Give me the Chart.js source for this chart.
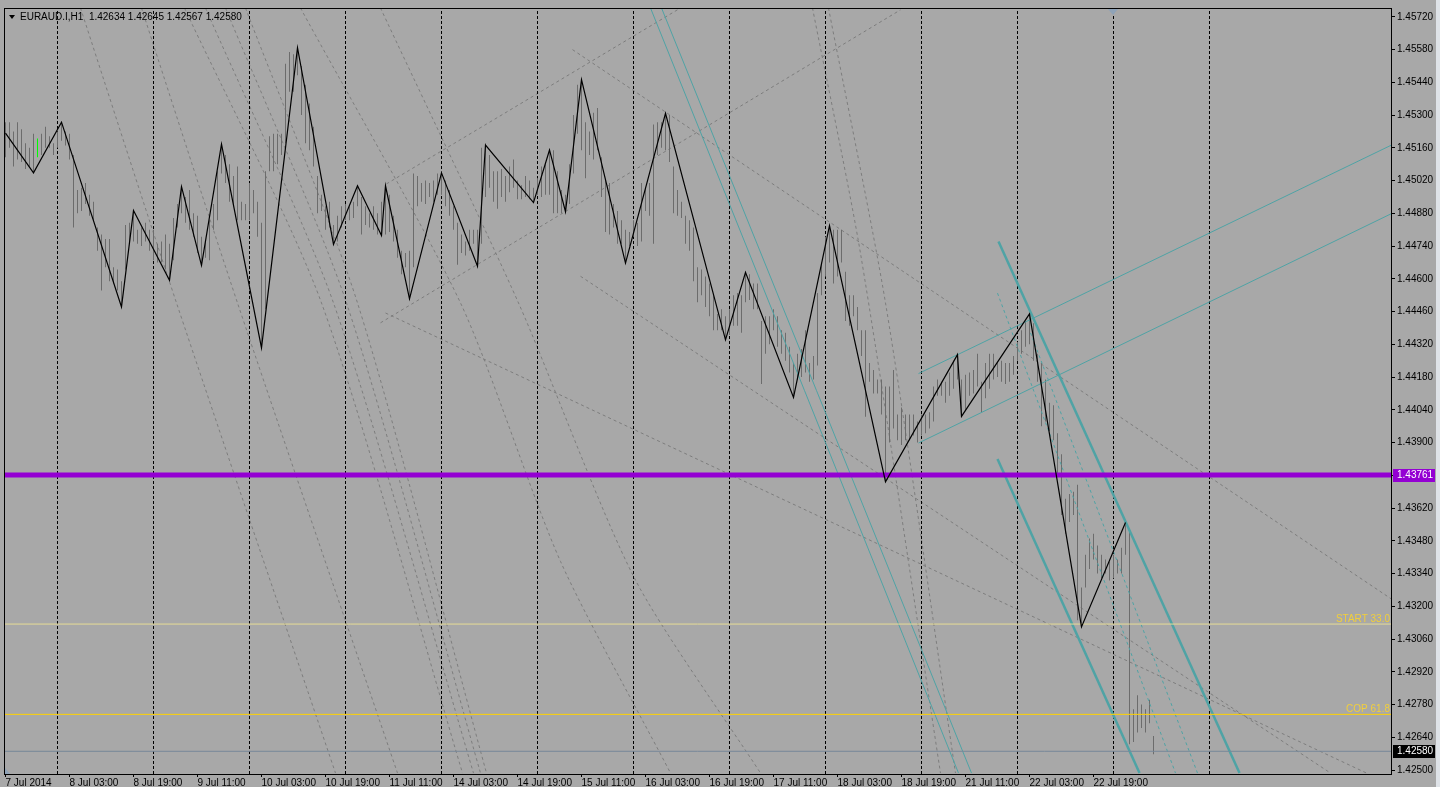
<!DOCTYPE html>
<html>
<head>
<meta charset="utf-8">
<script src="https://cdn.jsdelivr.net/npm/chart.js@4.4.1/dist/chart.umd.min.js"></script>
<style>
html,body{margin:0;padding:0;background:#A8A8A8;overflow:hidden;}
#wrap{position:relative;width:1440px;height:787px;}
</style>
</head>
<body>
<div id="wrap"><canvas id="c"></canvas></div>
<script>
// ---------- DATA ----------
const symbolTitle = "EURAUD.I,H1  1.42634 1.42645 1.42567 1.42580";
const xTickIdx = [0,16,32,48,64,80,96,112,128,144,160,176,192,208,224,240,256,272];
const xTickLabels = ["7 Jul 2014","8 Jul 03:00","8 Jul 19:00","9 Jul 11:00","10 Jul 03:00","10 Jul 19:00","11 Jul 11:00","14 Jul 03:00","14 Jul 19:00","15 Jul 11:00","16 Jul 03:00","16 Jul 19:00","17 Jul 11:00","18 Jul 03:00","18 Jul 19:00","21 Jul 11:00","22 Jul 03:00","22 Jul 19:00"];
const yTicks = [1.42500,1.42640,1.42780,1.42920,1.43060,1.43200,1.43340,1.43480,1.43620,1.43760,1.43900,1.44040,1.44180,1.44320,1.44460,1.44600,1.44740,1.44880,1.45020,1.45160,1.45300,1.45440,1.45580,1.45720];
const daySeparators = [13,37,61,85,109,133,157,181,205,229,253,277,301];

const highs = [
1.4527,1.4527,1.4523,1.4527,1.4524,1.4518,1.4516,1.4522,1.4520,1.4522,
1.4525,1.4521,1.4518,1.4523,1.4527,1.4523,1.4522,1.4513,1.4498,1.4499,
1.4501,1.4496,1.4493,1.4482,1.4479,1.4477,1.4477,1.4465,1.4464,1.4459,
1.4483,1.4484,1.4489,1.4481,1.4482,1.4484,1.4481,1.4481,1.4475,1.4476,
1.4479,1.4475,1.4486,1.4492,1.4499,1.4495,1.4498,1.4488,1.4487,1.4478,
1.4476,1.4485,1.4492,1.4506,1.4518,1.4513,1.4509,1.4504,1.4508,1.4493,
1.4492,1.4501,1.4498,1.4493,1.4484,1.4506,1.4521,1.4522,1.4522,1.4522,
1.4552,1.4557,1.4556,1.4559,1.4551,1.4543,1.4535,1.4525,1.4504,1.4496,
1.4491,1.4493,1.4483,1.4487,1.4491,1.4492,1.4491,1.4493,1.4500,1.4495,
1.4491,1.4488,1.4491,1.4488,1.4493,1.4500,1.4496,1.4487,1.4481,1.4472,
1.4471,1.4472,1.4505,1.4504,1.4501,1.4502,1.4501,1.4502,1.4505,1.4506,
1.4502,1.4498,1.4491,1.4484,1.4479,1.4476,1.4481,1.4481,1.4481,1.4516,
1.4518,1.4513,1.4506,1.4506,1.4507,1.4504,1.4508,1.4511,1.4502,1.4500,
1.4504,1.4502,1.4499,1.4503,1.4508,1.4509,1.4515,1.4515,1.4506,1.4498,
1.4496,1.4509,1.4530,1.4543,1.4545,1.4527,1.4523,1.4531,1.4533,1.4512,
1.4502,1.4501,1.4492,1.4489,1.4485,1.4481,1.4480,1.4485,1.4484,1.4501,
1.4499,1.4501,1.4526,1.4527,1.4527,1.4531,1.4530,1.4508,1.4498,1.4493,
1.4487,1.4485,1.4482,1.4465,1.4464,1.4461,1.4458,1.4453,1.4445,1.4447,
1.4444,1.4447,1.4453,1.4454,1.4453,1.4463,1.4462,1.4458,1.4458,1.4442,
1.4444,1.4444,1.4447,1.4444,1.4438,1.4437,1.4431,1.4424,1.4428,1.4430,
1.4438,1.4424,1.4427,1.4454,1.4467,1.4478,1.4483,1.4481,1.4481,1.4481,
1.4463,1.4453,1.4453,1.4448,1.4438,1.4438,1.4424,1.4421,1.4417,1.4417,
1.4414,1.4414,1.4421,1.4402,1.4405,1.4402,1.4402,1.4402,1.4399,1.4402,
1.4402,1.4403,1.4414,1.4417,1.4416,1.4416,1.4420,1.4425,1.4428,1.4417,
1.4419,1.4420,1.4421,1.4428,1.4416,1.4424,1.4428,1.4428,1.4424,1.4425,
1.4424,1.4424,1.4427,1.4433,1.4438,1.4442,1.4445,1.4441,1.4428,1.4424,
1.4417,1.4407,1.4406,1.4394,1.4385,1.4366,1.4368,1.4369,1.4372,1.4328,
1.4342,1.4349,1.4351,1.4346,1.4342,1.4340,1.4339,1.4342,1.4340,1.4345,
1.4356,1.4353,1.4276,1.4282,1.4278,1.4276,1.4280,1.42645
];
const lows = [
1.4512,1.4516,1.4508,1.4511,1.4510,1.4507,1.4508,1.4505,1.4512,1.4513,
1.4516,1.4516,1.4513,1.4516,1.4519,1.4517,1.4511,1.4482,1.4488,1.4489,
1.4492,1.4487,1.4485,1.4472,1.4455,1.4465,1.4459,1.4458,1.4455,1.4448,
1.4464,1.4475,1.4476,1.4475,1.4474,1.4476,1.4472,1.4468,1.4467,1.4467,
1.4464,1.4459,1.4468,1.4482,1.4488,1.4484,1.4481,1.4478,1.4471,1.4466,
1.4469,1.4468,1.4481,1.4485,1.4505,1.4501,1.4493,1.4491,1.4485,1.4485,
1.4485,1.4485,1.4488,1.4478,1.4431,1.4447,1.4506,1.4506,1.4509,1.4513,
1.4518,1.4540,1.4540,1.4547,1.4530,1.4518,1.4515,1.4508,1.4488,1.4489,
1.4481,1.4482,1.4475,1.4476,1.4482,1.4485,1.4485,1.4486,1.4491,1.4479,
1.4483,1.4482,1.4481,1.4479,1.4479,1.4479,1.4480,1.4476,1.4469,1.4462,
1.4465,1.4451,1.4465,1.4491,1.4493,1.4492,1.4495,1.4493,1.4496,1.4496,
1.4491,1.4487,1.4481,1.4466,1.4471,1.4470,1.4472,1.4475,1.4465,1.4475,
1.4495,1.4499,1.4493,1.4490,1.4495,1.4493,1.4497,1.4499,1.4494,1.4494,
1.4495,1.4494,1.4493,1.4496,1.4495,1.4496,1.4496,1.4488,1.4488,1.4488,
1.4488,1.4492,1.4505,1.4522,1.4515,1.4503,1.4513,1.4511,1.4515,1.4495,
1.4480,1.4479,1.4482,1.4475,1.4475,1.4467,1.4474,1.4478,1.4474,1.4476,
1.4489,1.4487,1.4475,1.4513,1.4516,1.4515,1.4510,1.4488,1.4487,1.4486,
1.4475,1.4472,1.4459,1.4450,1.4453,1.4448,1.4444,1.4438,1.4438,1.4438,
1.4434,1.4436,1.4440,1.4440,1.4437,1.4450,1.4451,1.4447,1.4447,1.4415,
1.4428,1.4432,1.4438,1.4431,1.4428,1.4425,1.4420,1.4409,1.4417,1.4418,
1.4420,1.4416,1.4417,1.4423,1.4453,1.4461,1.4467,1.4458,1.4461,1.4467,
1.4442,1.4440,1.4444,1.4438,1.4427,1.4401,1.4416,1.4411,1.4411,1.4402,
1.4373,1.4390,1.4396,1.4391,1.4389,1.4391,1.4391,1.4393,1.4390,1.4393,
1.4394,1.4396,1.4399,1.4410,1.4410,1.4407,1.4410,1.4413,1.4417,1.4401,
1.4404,1.4410,1.4411,1.4414,1.4403,1.4409,1.4413,1.4417,1.4418,1.4416,
1.4415,1.4416,1.4419,1.4425,1.4428,1.4431,1.4432,1.4425,1.4416,1.4397,
1.4399,1.4395,1.4391,1.4377,1.4359,1.4351,1.4356,1.4359,1.4314,1.4311,
1.4328,1.4336,1.4340,1.4334,1.4332,1.4334,1.4331,1.4332,1.4334,1.4334,
1.4342,1.4261,1.4262,1.4266,1.4268,1.4266,1.4270,1.42567
];
const highlightBar = 8;

const zzIdx = [0,7,14,29,32,41,44,49,54,64,73,82,88,94,95,101,109,118,120,132,136,140,144,155,165,180,185,197,206,220,238,239,256,269,280];
const zzPrice = [1.45223,1.45053,1.45270,1.44480,1.44892,1.44594,1.44994,1.44658,1.45176,1.44305,1.45588,1.44747,1.44998,1.44785,1.44998,1.44514,1.45053,1.44654,1.45172,1.44926,1.45151,1.44887,1.45452,1.44667,1.45308,1.44339,1.44628,1.44093,1.44828,1.43732,1.44276,1.44012,1.44450,1.43112,1.43558];

// horizontal levels
const levelPivot = 1.43761;
const levelStart = 1.43124;
const levelCop = 1.42738;
const bidPrice = 1.42580;

// drawn objects: [barIndex, price] points
const grayArcs = [
  [[18.75,1.45758],[42.75,1.44497],[82.5,1.42487]],
  [[34,1.45758],[58,1.44497],[98,1.42487]],
  [[44.75,1.45758],[79,1.44497],[114.25,1.42487]],
  [[50,1.45758],[82,1.44497],[117,1.42487]],
  [[55,1.45758],[85.25,1.44497],[118.75,1.42487]],
  [[60,1.45758],[88,1.44497],[120.25,1.42487]],
  [[73.75,1.45758],[113.75,1.44497],[138.75,1.43392],[166.25,1.42487]],
  [[93.75,1.45758],[128.25,1.44497],[157.25,1.43320],[188.75,1.42487]],
  [[201.75,1.45758],[213.75,1.44709],[233.75,1.42487]],
  [[205.75,1.45758],[220,1.44497],[237.5,1.42487]]
];
const grayLines = [
  [[95.25,1.45006],[168.75,1.45758]],
  [[93.75,1.44412],[223.75,1.45750]],
  [[141.75,1.45580],[346.5,1.43231]],
  [[143.75,1.44611],[331.25,1.42487]],
  [[95,1.44454],[340.25,1.42487]]
];
const tealThin = [
  [[161.25,1.45758],[238.25,1.42487]],
  [[164,1.45758],[241.5,1.42487]],
  [[228.25,1.44195],[346.5,1.45172]],
  [[228.25,1.43898],[346.5,1.44879]]
];
const tealThick = [
  [[248.25,1.44760],[308.5,1.42487]],
  [[248,1.43830],[283.5,1.42487]]
];
const tealDashed = [
  [[248,1.44539],[292.5,1.42487]],
  [[256.25,1.44369],[298,1.42487]]
];

// ---------- CHART ----------
const X_MIN = -0.375, X_MAX = 346.375, Y_MIN = 1.42483, Y_MAX = 1.45758;
const FONT = '"Liberation Sans", Arial, sans-serif';
Chart.defaults.font.family = FONT;
Chart.defaults.font.size = 10;
Chart.defaults.color = '#000';

const pts = arr => arr.map(p => ({x:p[0], y:p[1]}));
const lineDs = (arr, color, width, dash, order, tension) => ({
  type:'line', data: pts(arr), borderColor: color, borderWidth: width,
  borderDash: dash || [], pointRadius: 0, fill: false, tension: tension || 0, order
});

const datasets = [];
grayArcs.forEach(a => datasets.push(lineDs(a, '#7d7d7d', 1, [3,3], 20, 0.25)));
grayLines.forEach(a => datasets.push(lineDs(a, '#7d7d7d', 1, [3,3], 20)));
daySeparators.forEach(i => datasets.push(lineDs([[i,Y_MIN],[i,Y_MAX]], '#000', 1, [3,2], 18)));
datasets.push({
  type:'bar', order: 10,
  data: highs.map((h,i) => ({x:i, y:[lows[i], h]})),
  backgroundColor: highs.map((h,i) => i === highlightBar ? '#00ff00' : '#6c6c6c'),
  borderWidth: 0, barThickness: 1, inflateAmount: 0
});
tealThin.forEach(a => datasets.push(lineDs(a, '#4fa3a5', 1, [], 8)));
tealDashed.forEach(a => datasets.push(lineDs(a, '#4fa3a5', 1, [3,3], 8)));
tealThick.forEach(a => datasets.push(lineDs(a, '#4fa3a5', 2.5, [], 7)));
datasets.push(lineDs([[X_MIN,levelStart],[X_MAX,levelStart]], '#e6dc96', 1, [], 5));
datasets.push(lineDs([[X_MIN,levelCop],[X_MAX,levelCop]], '#ffd200', 1, [], 5));
datasets.push(lineDs([[X_MIN,bidPrice],[X_MAX,bidPrice]], '#778899', 1, [], 5));
datasets.push(lineDs([[X_MIN,levelPivot],[X_MAX,levelPivot]], '#9400d3', 5, [], 4));
datasets.push(lineDs(zzIdx.map((x,k) => [x, zzPrice[k]]), '#000', 1.2, [], 1));

const overlay = {
  id: 'overlay',
  beforeDraw(chart) {
    const ctx = chart.ctx;
    ctx.save();
    ctx.fillStyle = '#A8A8A8';
    ctx.fillRect(0, 0, chart.width, chart.height);
    ctx.fillStyle = '#dfe3e8';
    ctx.fillRect(1436, 0, 4, chart.height);
    ctx.restore();
  },
  afterDatasetsDraw(chart) {
    const ctx = chart.ctx, a = chart.chartArea, y = chart.scales.y;
    ctx.save();
    ctx.font = '10px ' + FONT;
    ctx.fillStyle = '#f2cf3a';
    ctx.textAlign = 'right';
    ctx.textBaseline = 'alphabetic';
    ctx.fillText('START 33.0', a.right - 1, y.getPixelForValue(levelStart) - 2);
    ctx.fillText('COP 61.8', a.right - 1, y.getPixelForValue(levelCop) - 2);
    ctx.restore();
  },
  afterDraw(chart) {
    const ctx = chart.ctx, a = chart.chartArea, y = chart.scales.y;
    ctx.save();
    // frame
    ctx.strokeStyle = '#000';
    ctx.lineWidth = 1;
    ctx.strokeRect(a.left + 0.5, a.top + 0.5, a.right - a.left, a.bottom - a.top);
    // price boxes on axis
    const box = (price, bg) => {
      const py = Math.round(y.getPixelForValue(price));
      ctx.fillStyle = bg;
      ctx.fillRect(a.right + 2, py - 6, 42, 13);
      ctx.fillStyle = '#fff';
      ctx.font = '10px ' + FONT;
      ctx.textAlign = 'left';
      ctx.textBaseline = 'middle';
      ctx.fillText(price.toFixed(5), a.right + 6, py + 0.5);
    };
    box(levelPivot, '#9400d3');
    box(bidPrice, '#000');
    // title
    ctx.fillStyle = '#000';
    ctx.beginPath();
    ctx.moveTo(a.left + 5, a.top + 7); ctx.lineTo(a.left + 11, a.top + 7); ctx.lineTo(a.left + 8, a.top + 11);
    ctx.closePath(); ctx.fill();
    ctx.font = '10px ' + FONT;
    ctx.textAlign = 'left';
    ctx.textBaseline = 'middle';
    ctx.fillText(symbolTitle, a.left + 16, a.top + 9.5);
    // chart shift markers
    ctx.fillStyle = '#8fa3b8';
    ctx.beginPath();
    ctx.moveTo(1108, a.top + 1); ctx.lineTo(1118, a.top + 1); ctx.lineTo(1113, a.top + 7);
    ctx.closePath(); ctx.fill();
    ctx.beginPath();
    ctx.moveTo(a.left + 1, a.bottom - 6); ctx.lineTo(a.left + 1, a.bottom); ctx.lineTo(a.left + 6, a.bottom);
    ctx.closePath(); ctx.fill();
    ctx.restore();
  }
};

new Chart(document.getElementById('c'), {
  type: 'line',
  data: { datasets },
  options: {
    responsive: true, maintainAspectRatio: false, animation: false, events: [],
    layout: { padding: { left: 4, top: 3, right: 0, bottom: 0 } },
    plugins: { legend: { display: false }, tooltip: { enabled: false }, title: { display: false } },
    scales: {
      x: {
        type: 'linear', min: X_MIN, max: X_MAX, offset: false,
        afterBuildTicks: s => { s.ticks = xTickIdx.map(v => ({ value: v })); },
        afterFit: s => { s.height = 13; },
        ticks: { autoSkip: false, maxRotation: 0, minRotation: 0, align: 'start', padding: 0,
                 color: '#000', font: { size: 10 }, callback: (v, i) => xTickLabels[i] },
        grid: { display: true, drawOnChartArea: false, drawTicks: true, tickLength: 3, color: '#000', offset: false },
        border: { display: false }
      },
      y: {
        type: 'linear', position: 'right', min: Y_MIN, max: Y_MAX,
        afterBuildTicks: s => { s.ticks = yTicks.map(v => ({ value: v })); },
        afterFit: s => { s.width = 49; },
        ticks: { autoSkip: false, padding: 2, color: '#000', font: { size: 10 }, callback: v => v.toFixed(5) },
        grid: { display: true, drawOnChartArea: false, drawTicks: true, tickLength: 4, color: '#000' },
        border: { display: false }
      }
    }
  },
  plugins: [overlay]
});
</script>
</body>
</html>
